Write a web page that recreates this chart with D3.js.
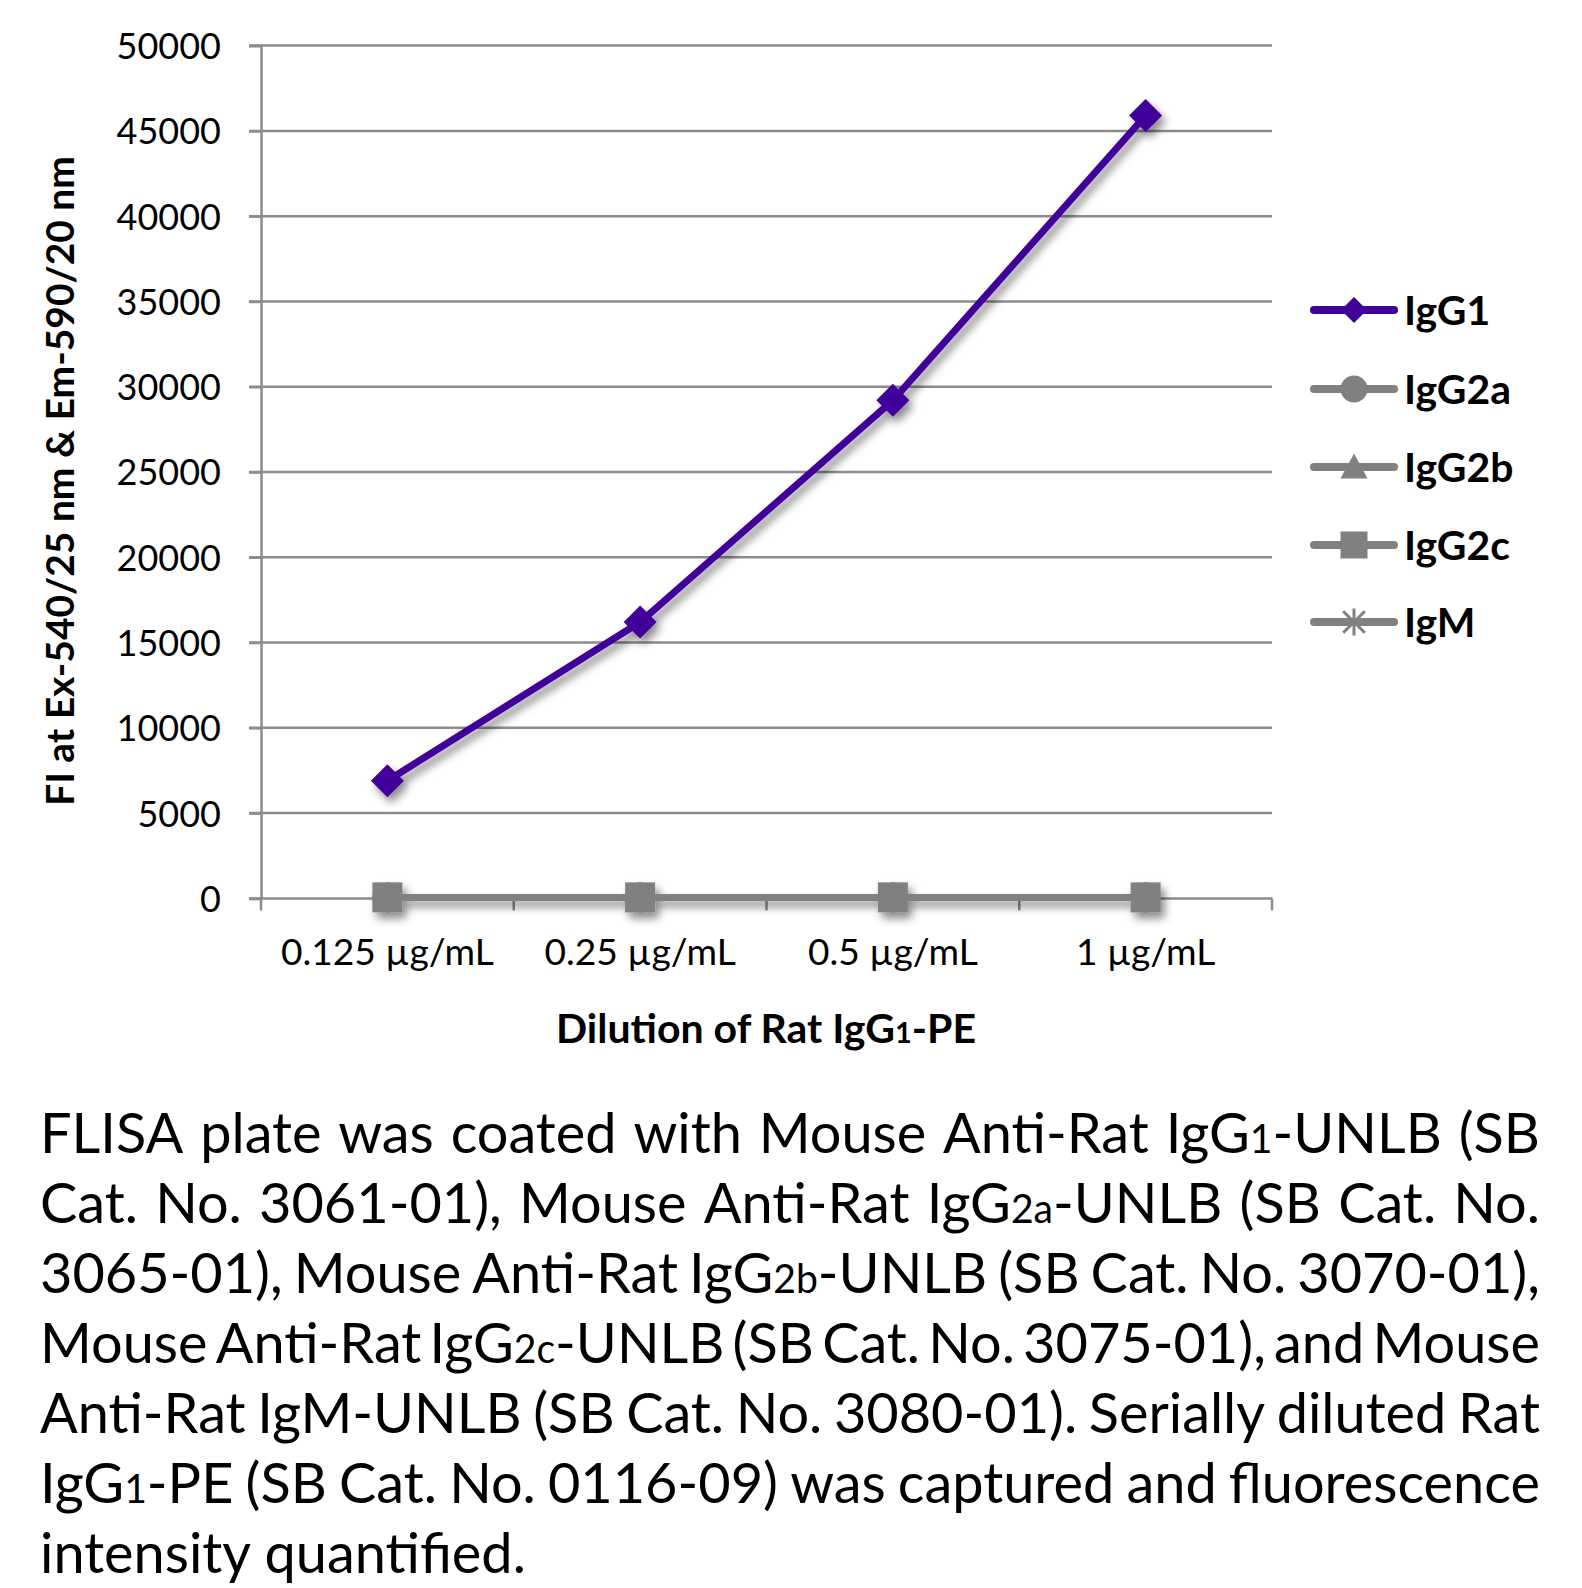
<!DOCTYPE html>
<html><head><meta charset="utf-8">
<script src="https://cdn.jsdelivr.net/npm/d3@7"></script>
<style>html,body{margin:0;padding:0;background:#fff}svg{display:block}</style>
</head><body>
<svg id="chart" width="1582" height="1588"></svg>
<script>
const categories = ["0.125 µg/mL", "0.25 µg/mL", "0.5 µg/mL", "1 µg/mL"];
const seriesNames = ["IgG1", "IgG2a", "IgG2b", "IgG2c", "IgM"];
const igg1 = [6900, 16200, 29200, 45900];
const igg2a = [60, 60, 60, 60];
const igg2b = [60, 60, 60, 60];
const igg2c = [60, 60, 60, 60];
const igm = [60, 60, 60, 60];
const yTicks = [0, 5000, 10000, 15000, 20000, 25000, 30000, 35000, 40000, 45000, 50000];
const yTitle = "FI at Ex-540/25 nm & Em-590/20 nm";
const xTitle = ["Dilution of Rat IgG", "1", "-PE"];
const captionLines = [
  "FLISA plate was coated with Mouse Anti-Rat IgG_{1}-UNLB (SB",
  "Cat. No. 3061-01), Mouse Anti-Rat IgG_{2a}-UNLB (SB Cat. No.",
  "3065-01), Mouse Anti-Rat IgG_{2b}-UNLB (SB Cat. No. 3070-01),",
  "Mouse Anti-Rat IgG_{2c}-UNLB (SB Cat. No. 3075-01), and Mouse",
  "Anti-Rat IgM-UNLB (SB Cat. No. 3080-01).  Serially diluted Rat",
  "IgG_{1}-PE (SB Cat. No. 0116-09) was captured and fluorescence",
  "intensity quantified."
];

const seriesValues = [igg1, igg2a, igg2b, igg2c, igm];
const colors = ["#3f0099", "#808080", "#808080", "#808080", "#808080"];
const shapes = ["diamond", "circle", "triangle", "square", "star"];
const FONT = "Lato, 'Open Sans', sans-serif";

const svg = d3.select("#chart");
const defs = svg.append("defs");
const f = defs.append("filter").attr("id", "shadow").attr("x", "-20%").attr("y", "-20%").attr("width", "140%").attr("height", "140%");
f.append("feDropShadow").attr("dx", 4).attr("dy", 6).attr("stdDeviation", 4).attr("flood-color", "#000").attr("flood-opacity", 0.45);

const pLeft = 261, pRight = 1272, pTop = 45.6, pBottom = 898.4;
const x = d3.scaleBand().domain(categories).range([pLeft, pRight]).padding(0);
const xc = c => x(c) + x.bandwidth() / 2;
const y = d3.scaleLinear().domain([0, 50000]).range([pBottom, pTop]);
const gridColor = "#8c8c8c";

function fitWidth(sel, target) {
  sel.each(function () {
    const w = this.getComputedTextLength();
    const fs = parseFloat(d3.select(this).attr("font-size"));
    if (w > 0) d3.select(this).attr("font-size", fs * target / w);
  });
}

svg.append("g").selectAll("line").data(yTicks).join("line")
  .attr("x1", pLeft - 12).attr("x2", pRight)
  .attr("y1", d => y(d)).attr("y2", d => y(d))
  .attr("stroke", gridColor).attr("stroke-width", 2.5);

const yAxis = svg.append("g").attr("transform", `translate(${pLeft},0)`)
  .call(d3.axisLeft(y).tickValues(yTicks).tickSize(12).tickPadding(28).tickFormat(d3.format("d")));
yAxis.select(".domain").attr("stroke", gridColor).attr("stroke-width", 2.5);
yAxis.selectAll(".tick line").attr("stroke", gridColor).attr("stroke-width", 2.5);
yAxis.selectAll(".tick text").attr("font-family", FONT).attr("font-size", 36).attr("fill", "#000").attr("dy", "0.36em");

const xAxis = svg.append("g").attr("transform", `translate(0,${pBottom})`)
  .call(d3.axisBottom(x).tickSize(0).tickPadding(0));
xAxis.select(".domain").remove();
xAxis.selectAll(".tick text").attr("font-family", FONT).attr("font-size", 37).attr("fill", "#000").attr("y", 67).attr("dy", 0);
fitWidth(xAxis.select(".tick text"), 213);
const xfs = xAxis.select(".tick text").attr("font-size");
xAxis.selectAll(".tick text").attr("font-size", xfs);
const bounds = [pLeft].concat(categories.map(c => x(c) + x.bandwidth()));
svg.append("g").selectAll("line").data(bounds).join("line")
  .attr("x1", d => d).attr("x2", d => d).attr("y1", pBottom).attr("y2", pBottom + 12)
  .attr("stroke", gridColor).attr("stroke-width", 2.5);

function markerPath(shape, s) {
  const h = s / 2;
  if (shape === "diamond") return `M0,${-h}L${h},0L0,${h}L${-h},0Z`;
  if (shape === "circle") return d3.symbol(d3.symbolCircle, Math.PI * h * h)();
  if (shape === "triangle") return `M0,${-h}L${h},${h * 0.85}L${-h},${h * 0.85}Z`;
  if (shape === "square") return `M${-h},${-h}H${h}V${h}H${-h}Z`;
  return `M0,${-h}V${h}M${-h * 0.8},${-h * 0.8}L${h * 0.8},${h * 0.8}M${h * 0.8},${-h * 0.8}L${-h * 0.8},${h * 0.8}`;
}

const line = d3.line().x((d, i) => xc(categories[i])).y(d => y(d));
const plot = svg.append("g").attr("filter", "url(#shadow)");
seriesValues.forEach((vals, si) => {
  const g = plot.append("g");
  g.append("path").datum(vals).attr("d", line).attr("fill", "none")
    .attr("stroke", colors[si]).attr("stroke-width", 7).attr("stroke-linejoin", "round");
  g.selectAll("path.m").data(vals).join("path").attr("class", "m")
    .attr("transform", (d, i) => `translate(${xc(categories[i])},${y(d)})`)
    .attr("d", markerPath(shapes[si], shapes[si] === "diamond" ? 33 : 30))
    .attr("fill", shapes[si] === "star" ? "none" : colors[si])
    .attr("stroke", shapes[si] === "star" ? colors[si] : "none").attr("stroke-width", 3);
});

const legY = [310, 389, 467, 545, 622];
const leg = svg.append("g");
seriesNames.forEach((name, i) => {
  const g = leg.append("g").attr("transform", `translate(0,${legY[i]})`);
  g.append("line").attr("x1", 1314).attr("x2", 1394).attr("y1", 0).attr("y2", 0)
    .attr("stroke", colors[i]).attr("stroke-width", 8).attr("stroke-linecap", "round");
  g.append("path").attr("transform", "translate(1354,0)")
    .attr("d", markerPath(shapes[i], shapes[i] === "diamond" ? 26 : 27))
    .attr("fill", shapes[i] === "star" ? "none" : colors[i])
    .attr("stroke", shapes[i] === "star" ? colors[i] : "none").attr("stroke-width", 3);
  const t = g.append("text").attr("x", 1404).attr("y", 0).attr("dy", "0.36em")
    .attr("font-family", FONT).attr("font-weight", 700).attr("font-size", 39).attr("fill", "#000").text(name);
  if (i === 1) fitWidth(t, 107);
  if (i > 1) t.attr("font-size", leg.select("g:nth-child(2) text").attr("font-size"));
  if (i === 1) leg.select("g:nth-child(1) text").attr("font-size", t.attr("font-size"));
});

const yt = svg.append("text").attr("transform", "translate(74,481) rotate(-90)").attr("text-anchor", "middle")
  .attr("font-family", FONT).attr("font-weight", 700).attr("font-size", 37).attr("fill", "#000").text(yTitle);
fitWidth(yt, 650);
const xt = svg.append("text").attr("x", 766).attr("y", 1043).attr("text-anchor", "middle")
  .attr("font-family", FONT).attr("font-weight", 700).attr("font-size", 41).attr("fill", "#000");
xt.append("tspan").text(xTitle[0]);
xt.append("tspan").attr("font-size", 29).text(xTitle[1]);
xt.append("tspan").text(xTitle[2]);

const capLeft = 40, capRight = 1540, capFont = 57, capBase = 1152.5, capStep = 70, capSx = 0.98;
const cap = svg.append("g").attr("font-family", FONT).attr("font-size", capFont).attr("fill", "#000");
function addWord(parent, word) {
  const t = parent.append("text");
  const parts = word.split(/_\{([^}]*)\}/);
  parts.forEach((p, k) => {
    if (!p) return;
    const ts = t.append("tspan").text(p);
    if (k % 2 === 1) ts.attr("font-size", capFont * 0.7);
  });
  return t;
}
captionLines.forEach((ln, li) => {
  const g = cap.append("g");
  const words = ln.split(/\s+/);
  const nodes = words.map(w => addWord(g, w));
  const widths = nodes.map(n => n.node().getComputedTextLength());
  const sum = d3.sum(widths);
  const space = capFont * 0.24;
  const last = li === captionLines.length - 1;
  const W = (capRight - capLeft) / capSx;
  let gap = last ? space : (W - sum) / (words.length - 1);
  let scale = capSx;
  if (gap < space * 0.6) { scale = capSx * W / (sum + space * 0.6 * (words.length - 1)); gap = space * 0.6; }
  let cx = 0;
  nodes.forEach((n, k) => { n.attr("x", cx); cx += widths[k] + gap; });
  g.attr("transform", `translate(${capLeft},${capBase + li * capStep}) scale(${scale},1)`);
});
</script>
</body></html>
